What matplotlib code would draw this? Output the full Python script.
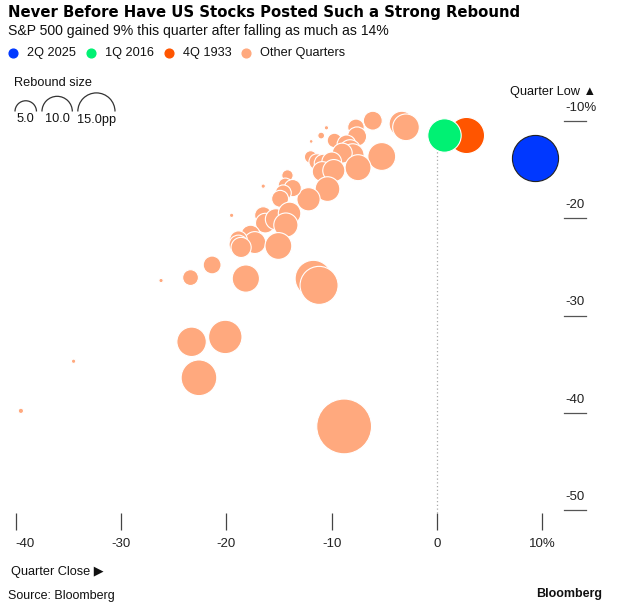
import matplotlib
matplotlib.use('Agg')
import matplotlib.pyplot as plt
import matplotlib.transforms as mtransforms
from matplotlib.lines import Line2D
from matplotlib.patches import Arc
import numpy as np

# --- data: quarter close vs quarter low (% from prior quarter end) ---
other_close = [-3.35, -2.95, -6.1, -7.7, -7.6, -10.5, -11.0, -11.95, -9.74, -8.6,
               -8.25, -8.0, -9.0, -5.25, -7.5, -12.0, -11.4, -10.8, -10.0, -10.9,
               -9.8, -10.4, -12.2, -14.2, -16.5, -19.5, -14.4, -13.7, -14.6, -14.9,
               -16.5, -16.3, -15.3, -14.0, -14.35, -17.7, -17.3, -18.85, -18.85, -18.6,
               -26.2, -23.4, -21.35, -18.15, -15.06, -11.74, -11.2, -23.3, -20.1, -22.6,
               -8.82, -34.5, -39.5]
other_low = [-10.3, -10.65, -9.97, -10.65, -11.6, -10.7, -11.5, -12.1, -12.0, -12.4,
             -13.0, -13.5, -13.3, -13.65, -14.8, -13.7, -14.2, -14.35, -14.2, -15.2,
             -15.1, -17.0, -18.05, -15.6, -16.7, -19.7, -16.6, -16.9, -17.4, -18.0,
             -19.7, -20.5, -20.1, -19.5, -20.7, -21.7, -22.5, -22.2, -22.7, -23.0,
             -26.4, -26.1, -24.8, -26.2, -22.85, -26.2, -26.9, -32.7, -32.2, -36.4,
             -41.4, -34.7, -39.8]

hl_labels = ['4Q 1933', '1Q 2016', '2Q 2025']
hl_close = [2.75, 0.7, 9.3]
hl_low = [-11.4, -11.4, -13.8]
hl_colors = ['#ff5500', '#00f173', '#0038ff']
other_color = '#ffa97e'

legend_labels = ['2Q 2025', '1Q 2016', '4Q 1933', 'Other Quarters']
legend_colors = ['#0038ff', '#00f173', '#ff5500', other_color]

size_keys = [5.0, 10.0, 15.0]
size_labels = ['5.0', '10.0', '15.0pp']

x_ticks = [-40, -30, -20, -10, 0, 10]
x_tick_labels = ['-40', '-30', '-20', '-10', '0', '10%']
y_ticks = [-10, -20, -30, -40, -50]
y_tick_labels = ['-10%', '-20', '-30', '-40', '-50']

# bubble radius in pixels = K * sqrt(rebound pp)
K = 4.8
W, H = 630, 608
FONT = ['Liberation Sans', 'DejaVu Sans']
plt.rcParams['font.family'] = FONT


def fig_xy(px, py):
    return px / W, 1 - py / H


def area(rebound):
    # scatter size is diameter^2 in points (1 px = 0.72 pt at dpi 100)
    return (2 * K * 0.72) ** 2 * np.asarray(rebound)


fig = plt.figure(figsize=(W / 100, H / 100), dpi=100)
ax = fig.add_axes([5.1 / W, 1 - 513 / H, 558.4 / W, 421.2 / H])
ax.set_xlim(-41, 12)
ax.set_ylim(-50.3, -7)

oc = np.array(other_close)
ol = np.array(other_low)
ax.scatter(oc, ol, s=area(oc - ol), color=other_color,
           edgecolor='white', linewidth=0.8, zorder=3)

for c, lo, col in zip(hl_close, hl_low, hl_colors):
    edge = '#222222' if col == '#0038ff' else 'white'
    ax.scatter([c], [lo], s=area(c - lo), color=col, edgecolor=edge,
               linewidth=0.8, zorder=4)

# dotted zero line under 1Q 2016
ax.vlines(0, -50.3, hl_low[1], colors='#aaaaaa', linestyles=(0, (1, 2)),
          linewidth=0.9, zorder=1)

for sp in ax.spines.values():
    sp.set_visible(False)

ax.set_xticks(x_ticks)
ax.set_xticklabels(x_tick_labels)
ax.tick_params(axis='x', length=12, width=0.9, color='#444444',
               pad=6, labelsize=9.5, labelcolor='#222222')
ax.get_xticklabels()[0].set_horizontalalignment('left')
ax.set_yticks([])

blend = mtransforms.blended_transform_factory(ax.transAxes, ax.transData)
lab_tr = mtransforms.offset_copy(blend, fig=fig, y=9.4, units='points')
for yt, lbl in zip(y_ticks, y_tick_labels):
    ax.plot([1.0, 1.0394], [yt, yt], color='#555555', linewidth=0.9,
            transform=blend, clip_on=False)
    ax.text(1.003, yt, lbl, transform=lab_tr, ha='left', va='center',
            fontsize=9.5, color='#222222')

# titles
fig.text(*fig_xy(8, 13), 'Never Before Have US Stocks Posted Such a Strong Rebound',
         family='DejaVu Sans', fontweight='bold', fontsize=10.7, va='center')
fig.text(*fig_xy(8, 31), 'S&P 500 gained 9% this quarter after falling as much as 14%',
         fontsize=10.1, va='center', color='#111111')

# colour legend
lx = 12.7
for lbl, col in zip(legend_labels, legend_colors):
    fig.add_artist(Line2D([fig_xy(lx, 53)[0]], [fig_xy(lx, 53)[1]], marker='o',
                          markersize=6.3, color=col, linestyle='none',
                          transform=fig.transFigure))
    t = fig.text(*fig_xy(lx + 14, 53), lbl, fontsize=9.2, va='center', color='#111111')
    fig.canvas.draw()
    bb = t.get_window_extent()
    lx = bb.x1 + 15

# size legend
fig.text(*fig_xy(14, 83), 'Rebound size', fontsize=9.2, va='center', color='#111111')
left = 15
for key, lbl in zip(size_keys, size_labels):
    r = K * np.sqrt(key)
    cx = left + r
    fig.add_artist(Arc((cx / 100, (H - 111.5) / 100), 2 * r / 100, 2 * r / 100,
                       theta1=0, theta2=180, color='#333333', linewidth=0.9,
                       transform=fig.dpi_scale_trans))
    fig.text(*fig_xy(cx, 119.5), lbl, fontsize=9.2, ha='center', va='center',
             color='#111111')
    left = cx + r + 5.5

# axis names and footer
fig.text(*fig_xy(596, 92.5), 'Quarter Low \u25b2', fontsize=9.2, ha='right',
         va='center', color='#111111')
fig.text(*fig_xy(11, 572), 'Quarter Close \u25b6', fontsize=9.2, va='center',
         color='#111111')
fig.text(*fig_xy(8, 596), 'Source: Bloomberg', fontsize=9, va='center',
         color='#111111')
fig.text(*fig_xy(602, 594), 'Bloomberg', fontsize=9, fontweight='bold',
         ha='right', va='center', color='#111111')

fig.savefig('out.png', dpi=100)
